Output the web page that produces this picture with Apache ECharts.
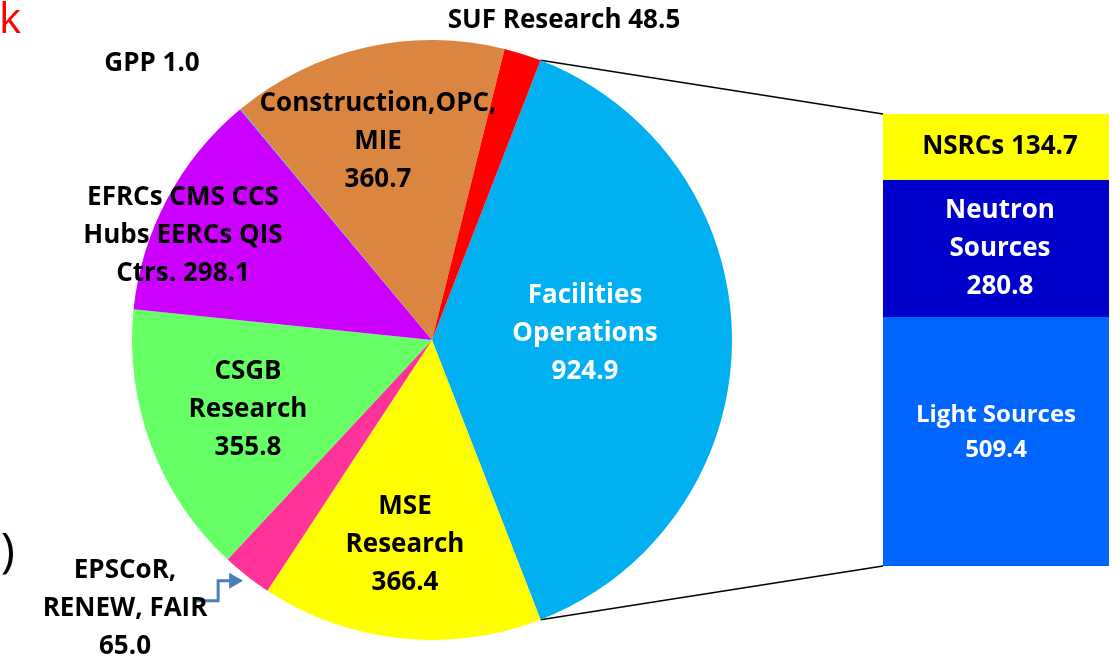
<!DOCTYPE html>
<html>
<head>
<meta charset="utf-8">
<script src="https://cdn.jsdelivr.net/npm/echarts@6/dist/echarts.min.js"></script>
<style>
html,body{margin:0;padding:0;background:#fff;}
#chartmain{width:1120px;height:661px;}
</style>
</head>
<body>
<div id="chartmain"></div>
<script>
// pie slices, clockwise from the top edge of Facilities Operations
var pieNames = ['Facilities Operations', 'MSE Research', 'EPSCoR, RENEW, FAIR', 'CSGB Research',
    'EFRCs CMS CCS Hubs EERCs QIS Ctrs.', 'GPP', 'Construction,OPC, MIE', 'SUF Research'];
var pieValues = [924.9, 366.4, 65.0, 355.8, 298.1, 1.0, 360.7, 48.5];
var pieLabels = ['Facilities\nOperations\n', 'MSE\nResearch\n', 'EPSCoR,\nRENEW, FAIR\n', 'CSGB\nResearch\n',
    'EFRCs CMS CCS\nHubs EERCs QIS\nCtrs. ', 'GPP ', 'Construction,OPC,\nMIE\n', 'SUF Research '];
// breakdown of Facilities Operations, bottom to top
var barNames = ['Light Sources', 'Neutron Sources', 'NSRCs'];
var barValues = [509.4, 280.8, 134.7];
var barLabels = ['Light Sources\n', 'Neutron\nSources\n', 'NSRCs '];

var pieColors = ['#00B0F0', '#FFFF00', '#FF3399', '#66FF66', '#CC00FF', '#00B0F0', '#DA8640', '#FF0000'];
var pieTextColors = ['#fff', '#000', '#000', '#000', '#000', '#000', '#000', '#000'];
var labelXY = [[585, 334], [405, 545], [125, 609], [248, 410], [183, 236], [152, 64], [378, 142], [564, 21]];
var barColors = ['#0066FF', '#0000CC', '#FFFF00'];
var barTextColors = ['#fff', '#fff', '#000'];

var FONT = 'Open Sans';
var cx = 432, cy = 340, R = 300;
var gridLeft = 883, gridTop = 114, gridW = 226, gridH = 452;

var total = 0;
for (var i = 0; i < pieValues.length; i++) total += pieValues[i];
var barTotal = 0;
for (var i = 0; i < barValues.length; i++) barTotal += barValues[i];
var half = pieValues[0] / total * 180;

var myChart = echarts.init(document.getElementById('chartmain'));

var pieData = [];
for (var i = 0; i < pieValues.length; i++) {
    pieData.push({
        name: pieNames[i],
        value: pieValues[i],
        itemStyle: {color: pieColors[i]},
        label: {color: pieTextColors[i]}
    });
}

var barSeries = [];
for (var j = 0; j < barValues.length; j++) {
    barSeries.push({
        name: barNames[j],
        type: 'bar',
        stack: 'fac',
        barWidth: '100%',
        data: [barValues[j]],
        itemStyle: {color: barColors[j]},
        label: {
            show: true,
            position: 'inside',
            color: barTextColors[j],
            fontFamily: FONT,
            fontWeight: 'bold',
            fontSize: j == 0 ? 24 : 26,
            lineHeight: j == 0 ? 35 : 38,
            offset: j == 0 ? [0, -9] : [4, 0],
            formatter: (function(k) {
                return function(p) { return barLabels[k] + p.value.toFixed(1); };
            })(j)
        }
    });
}

var options = {
    animation: false,
    backgroundColor: '#fff',
    grid: {left: gridLeft, top: gridTop, width: gridW, height: gridH},
    xAxis: {type: 'category', data: ['Facilities Operations'], show: false},
    yAxis: {type: 'value', min: 0, max: barTotal, show: false},
    series: [{
        type: 'pie',
        center: [cx, cy],
        radius: [0, R],
        startAngle: half,
        clockwise: true,
        avoidLabelOverlap: false,
        itemStyle: {borderWidth: 0},
        label: {
            show: true,
            position: 'inside',
            fontFamily: FONT,
            fontWeight: 'bold',
            fontSize: 26,
            lineHeight: 38,
            formatter: function(p) { return pieLabels[p.dataIndex] + p.value.toFixed(1); }
        },
        labelLine: {show: false},
        labelLayout: function(params) {
            var xy = labelXY[params.dataIndex];
            return {x: xy[0], y: xy[1], align: 'center', verticalAlign: 'middle'};
        },
        emphasis: {disabled: true},
        data: pieData
    }].concat(barSeries)
};
myChart.setOption(options);

// connector lines from the Facilities slice to the bar
var rad = half * Math.PI / 180;
var pTop = [cx + R * Math.cos(rad), cy - R * Math.sin(rad)];
var pBot = [cx + R * Math.cos(rad), cy + R * Math.sin(rad)];
var yTop = myChart.convertToPixel({yAxisIndex: 0}, barTotal);
var yBot = myChart.convertToPixel({yAxisIndex: 0}, 0);

// arrow pointing at EPSCoR slice
var epsStart = half - (pieValues[0] + pieValues[1]) / total * 360;
var epsMid = (epsStart - pieValues[2] / total * 180) * Math.PI / 180;
var tx = cx + (R + 6) * Math.cos(epsMid), ty = cy - (R + 6) * Math.sin(epsMid);
var arrowColor = '#4A7EBB';

myChart.setOption({
    graphic: [
        {type: 'line', shape: {x1: pTop[0], y1: pTop[1], x2: gridLeft, y2: yTop}, style: {stroke: '#000', lineWidth: 1.5}},
        {type: 'line', shape: {x1: pBot[0], y1: pBot[1], x2: gridLeft, y2: yBot}, style: {stroke: '#000', lineWidth: 1.5}},
        {type: 'polyline', shape: {points: [[tx - 50, ty + 20], [tx - 25, ty + 20], [tx - 25, ty], [tx - 12, ty]]},
            style: {stroke: arrowColor, lineWidth: 3, fill: null}},
        {type: 'polygon', shape: {points: [[tx - 14, ty - 8], [tx, ty], [tx - 14, ty + 8]]}, style: {fill: arrowColor}},
        {type: 'text', x: 21, y: 42, style: {text: 'k', fill: '#FF0000', font: '42px "Open Sans"', textAlign: 'right', textVerticalAlign: 'bottom'}},
        {type: 'text', x: 15, y: 553, style: {text: ')', fill: '#000', font: '48px "Open Sans"', textAlign: 'right', textVerticalAlign: 'middle'}}
    ]
});
</script>
</body>
</html>
